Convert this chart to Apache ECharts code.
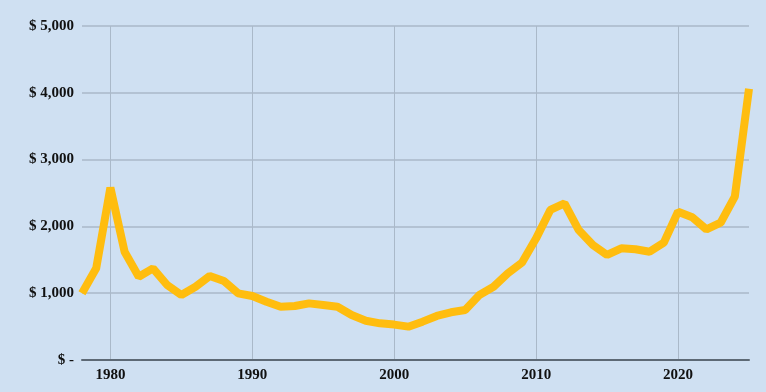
<!DOCTYPE html>
<html>
<head>
<meta charset="utf-8">
<script src="https://cdn.jsdelivr.net/npm/echarts@6/dist/echarts.min.js"></script>
<style>
html,body{margin:0;padding:0;background:#cfe0f2;}
#c{width:766px;height:392px;}
</style>
</head>
<body>
<div id="c"></div>
<script>
const years = [];
for (let y = 1978; y <= 2025; y++) years.push(String(y));
const prices = [1000, 1372, 2580, 1621, 1247, 1372, 1123, 973, 1097, 1257,
  1183, 998, 958, 873, 798, 808, 848, 823, 798, 673,
  588, 549, 530, 499, 574, 659, 714, 749, 973, 1097,
  1297, 1457, 1821, 2246, 2345, 1946, 1722, 1572, 1672, 1657,
  1621, 1756, 2220, 2136, 1956, 2055, 2445, 4060];
const yTicks = [0, 1000, 2000, 3000, 4000, 5000];

const chart = echarts.init(document.getElementById('c'));
const fontFamily = '"Liberation Serif","Times New Roman",serif';
chart.setOption({
  backgroundColor: '#cfe0f2',
  animation: false,
  grid: {left: 82, right: 17, top: 26, bottom: 32},
  xAxis: {
    type: 'category',
    data: years,
    boundaryGap: false,
    axisLine: {lineStyle: {color: '#5d6975', width: 2}},
    axisTick: {show: false},
    axisLabel: {
      interval: (i, v) => Number(v) % 10 === 0,
      color: '#111', fontWeight: 'bold', fontSize: 15, fontFamily, margin: 8
    },
    splitLine: {
      show: true,
      interval: (i, v) => Number(v) % 10 === 0,
      lineStyle: {color: '#aab9c9', width: 1}
    }
  },
  yAxis: {
    type: 'value',
    min: yTicks[0], max: yTicks[yTicks.length - 1], interval: 1000,
    axisLine: {show: false},
    axisTick: {show: false},
    axisLabel: {
      color: '#111', fontWeight: 'bold', fontSize: 15, fontFamily, margin: 8,
      formatter: v => v === 0 ? '$ -' : '$ ' + v.toLocaleString('en-US')
    },
    splitLine: {lineStyle: {color: '#aab9c9', width: 1.5}}
  },
  series: [{
    type: 'line',
    data: prices,
    showSymbol: false,
    symbol: 'none',
    lineStyle: {color: '#ffbd0f', width: 8},
    z: 3
  }]
});
</script>
</body>
</html>
